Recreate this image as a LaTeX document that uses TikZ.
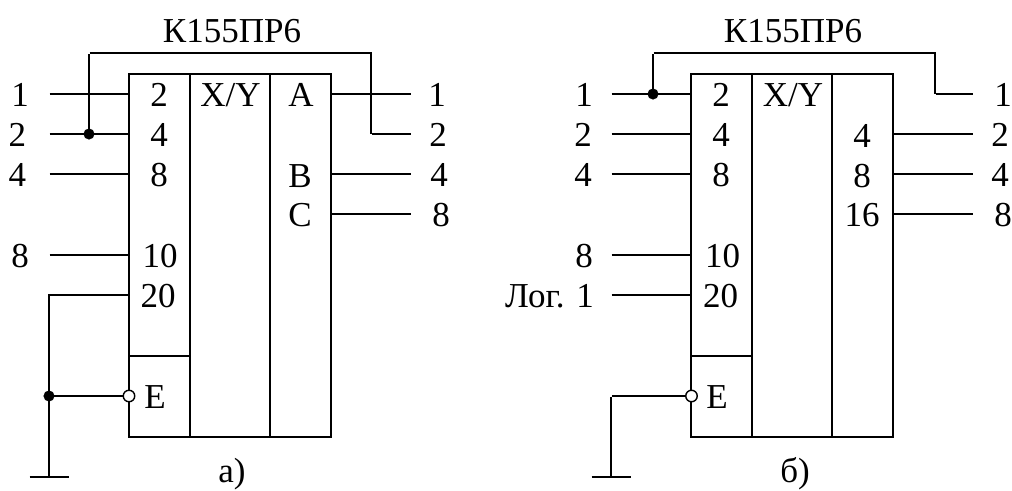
\documentclass[tikz,border=0pt]{standalone}
\usepackage{fontspec}
\setmainfont{Liberation Serif}
\usepackage{tikz}
\tikzstyle{cell} = [rectangle, draw, line width=1.5pt, inner sep=0, outer sep=0]
\tikzstyle{blank} = [inner sep=0,outer sep=0]
\tikzstyle{txt} = [inner sep=0,outer sep=0, text height=24pt, text depth=0pt, font=\fontsize{35}{38}\selectfont]
\tikzstyle{wire} = [draw, line width=1.5pt]
\tikzstyle{dot} = [circle, fill=black, draw, line width=0.5pt, minimum size=10.5pt, inner sep=0, outer sep=0]
\tikzstyle{inv} = [circle, fill=white, draw, line width=1.4pt, minimum size=11.5pt, inner sep=0, outer sep=0]

\begin{document}
\begin{tikzpicture}[x=1pt, y=-1pt, node distance=80pt]
\useasboundingbox (0,0) rectangle (1012,490);

\node [cell, minimum width=61pt, minimum height=282pt] (Ua) at (159.5,215) {};
\node [cell, minimum width=61pt, minimum height=81pt] (Ea) at (159.5,396.5) {};
\node [cell, minimum width=80pt, minimum height=363pt] (Ma) at (230,255.5) {};
\node [cell, minimum width=61pt, minimum height=363pt] (Ra) at (300.5,255.5) {};

\node [blank] (pa1) at (129,94) {};
\node [blank] (pa2) at (129,134) {};
\node [blank] (pa3) at (129,174) {};
\node [blank] (pa4) at (129,255) {};
\node [blank] (pa5) at (129,295) {};
\node [blank, left of=pa1] (sa1) {};
\node [blank, left of=pa2] (sa2) {};
\node [blank, left of=pa3] (sa3) {};
\node [blank, left of=pa4] (sa4) {};
\node [blank, left of=pa5] (sa5) {};
\node [inv] (Ia) at (129,396) {};
\node [dot] (Da) at (89,134) {};
\node [dot] (Ja) at (49,396) {};
\node [blank] (Ga) at (49,477) {};
\node [blank, left of=Ga, xshift=60pt] (Gal) {};
\node [blank, right of=Ga, xshift=-60pt] (Gar) {};

\node [blank] (qa1) at (331,94) {};
\node [blank] (qa3) at (331,174) {};
\node [blank] (qa4) at (331,214) {};
\node [blank, right of=qa1] (ra1) {};
\node [blank] (ra2) at (411,134) {};
\node [blank, right of=qa3] (ra3) {};
\node [blank, right of=qa4] (ra4) {};
\node [blank] (Ta) at (89,53) {};
\node [blank] (Ka) at (371,134) {};

\node [txt] (title a) at (232,30) {К155ПР6};
\node [txt] (cap a) at (232,470.5) {а)};
\node [txt, left of=sa1, xshift=51pt] (la1) {1};
\node [txt, left of=sa2, xshift=48.5pt] (la2) {2};
\node [txt, left of=sa3, xshift=48.5pt] (la3) {4};
\node [txt, left of=sa4, xshift=51pt] (la4) {8};
\node [txt, right of=ra1, xshift=-54pt] (oa1) {1};
\node [txt, right of=ra2, xshift=-53pt] (oa2) {2};
\node [txt, right of=ra3, xshift=-52pt] (oa3) {4};
\node [txt, right of=ra4, xshift=-50pt] (oa4) {8};
\node [txt, right of=pa1, xshift=-50pt] (ia1) {2};
\node [txt, right of=pa2, xshift=-50pt] (ia2) {4};
\node [txt, right of=pa3, xshift=-50pt] (ia3) {8};
\node [txt, right of=pa4, xshift=-49pt] (ia4) {10};
\node [txt, right of=pa5, xshift=-51pt] (ia5) {20};
\node [txt, right of=Ia, xshift=-54pt] (ea) {E};
\node [txt] (xya) at (230.5,94) {X/Y};
\node [txt, left of=qa1, xshift=50pt] (fa1) {A};
\node [txt, left of=qa3, xshift=49pt, yshift=-1pt] (fa3) {B};
\node [txt, left of=qa4, xshift=49pt] (fa4) {C};

\path [wire] (sa1) -- (pa1);
\path [wire] (sa2) -- (pa2);
\path [wire] (sa3) -- (pa3);
\path [wire] (sa4) -- (pa4);
\path [wire] (pa5) -| (Ga);
\path [wire] (Ja) -- (Ia);
\path [wire] (Gal) -- (Gar);
\path [wire] (Da) -- (Ta) -| (Ka) -- (ra2);
\path [wire] (qa1) -- (ra1);
\path [wire] (qa3) -- (ra3);
\path [wire] (qa4) -- (ra4);

\node [cell, minimum width=61pt, minimum height=282pt] (Ub) at (721.5,215) {};
\node [cell, minimum width=61pt, minimum height=81pt] (Eb) at (721.5,396.5) {};
\node [cell, minimum width=80pt, minimum height=363pt] (Mb) at (792,255.5) {};
\node [cell, minimum width=61pt, minimum height=363pt] (Rb) at (862.5,255.5) {};

\node [blank] (pb1) at (691,94) {};
\node [blank] (pb2) at (691,134) {};
\node [blank] (pb3) at (691,174) {};
\node [blank] (pb4) at (691,255) {};
\node [blank] (pb5) at (691,295) {};
\node [blank] (sb1) at (611,94) {};
\node [blank] (sb2) at (611,134) {};
\node [blank] (sb3) at (611,174) {};
\node [blank] (sb4) at (611,255) {};
\node [blank] (sb5) at (611,295) {};
\node [inv] (Ib) at (691.5,396) {};
\node [dot] (Db) at (653,94) {};
\node [blank] (Jb) at (611,396) {};
\node [blank] (Gb) at (611,477) {};
\node [blank, left of=Gb, xshift=60pt] (Gbl) {};
\node [blank, right of=Gb, xshift=-60pt] (Gbr) {};

\node [blank] (qb2) at (893,134) {};
\node [blank] (qb3) at (893,174) {};
\node [blank] (qb4) at (893,214) {};
\node [blank] (rb1) at (973,94) {};
\node [blank, right of=qb2] (rb2) {};
\node [blank, right of=qb3] (rb3) {};
\node [blank, right of=qb4] (rb4) {};
\node [blank] (Tb) at (653,53) {};
\node [blank] (Kb) at (935,94) {};

\node [txt] (title b) at (793,30) {К155ПР6};
\node [txt] (cap b) at (795,470.5) {б)};
\node [txt, left of=sb1, xshift=53pt] (lb1) {1};
\node [txt, left of=sb2, xshift=52pt] (lb2) {2};
\node [txt, left of=sb3, xshift=52pt] (lb3) {4};
\node [txt, left of=sb4, xshift=53pt] (lb4) {8};
\node [txt, left of=sb5, xshift=18.5pt] (lb5) {Лог. 1};
\node [txt, right of=rb1, xshift=-50pt] (ob1) {1};
\node [txt, right of=rb2, xshift=-53pt] (ob2) {2};
\node [txt, right of=rb3, xshift=-53pt] (ob3) {4};
\node [txt, right of=rb4, xshift=-50pt] (ob4) {8};
\node [txt, right of=pb1, xshift=-50pt] (ib1) {2};
\node [txt, right of=pb2, xshift=-50pt] (ib2) {4};
\node [txt, right of=pb3, xshift=-50pt] (ib3) {8};
\node [txt, right of=pb4, xshift=-48.5pt] (ib4) {10};
\node [txt, right of=pb5, xshift=-50.5pt] (ib5) {20};
\node [txt, right of=Ib, xshift=-54.5pt] (eb) {E};
\node [txt] (xyb) at (793,94) {X/Y};
\node [txt, left of=qb2, xshift=49pt, yshift=-1pt] (fb2) {4};
\node [txt, left of=qb3, xshift=49pt, yshift=-1pt] (fb3) {8};
\node [txt, left of=qb4, xshift=49pt] (fb4) {16};

\path [wire] (sb1) -- (pb1);
\path [wire] (sb2) -- (pb2);
\path [wire] (sb3) -- (pb3);
\path [wire] (sb4) -- (pb4);
\path [wire] (sb5) -- (pb5);
\path [wire] (Ib.west) -- (Jb) -- (Gb);
\path [wire] (Gbl) -- (Gbr);
\path [wire] (Db) -- (Tb) -| (Kb) -- (rb1);
\path [wire] (qb2) -- (rb2);
\path [wire] (qb3) -- (rb3);
\path [wire] (qb4) -- (rb4);

\end{tikzpicture}
\end{document}
